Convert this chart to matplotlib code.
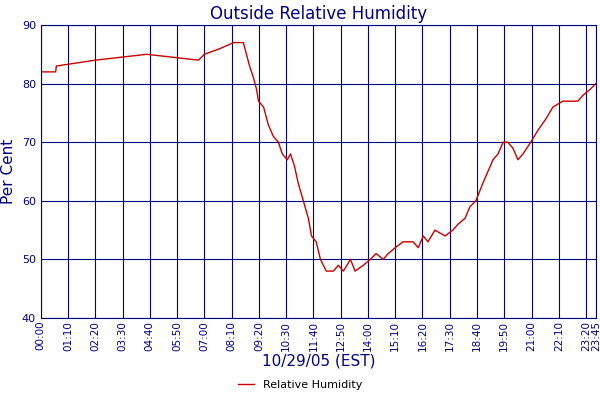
import matplotlib.pyplot as plt
from matplotlib.lines import Line2D

# minutes since midnight and relative humidity (%)
minutes = [0, 38, 40, 140, 272, 405, 420, 461, 495, 520, 528, 536, 546, 554, 559, 572,
           584, 597, 610, 620, 633, 641, 651, 661, 674, 687, 695, 707, 718, 733, 751,
           764, 777, 795, 807, 828, 846, 861, 879, 892, 910, 930, 956, 969, 982, 994,
           1012, 1038, 1058, 1071, 1089, 1102, 1117, 1135, 1148, 1161, 1174, 1187, 1199,
           1212, 1225, 1238, 1258, 1276, 1297, 1315, 1340, 1379, 1392, 1410, 1425]
humidity = [82, 82, 83, 84, 85, 84, 85, 86, 87, 87, 85, 83, 81, 79, 77, 76,
            73, 71, 70, 68, 67, 68, 66, 63, 60, 57, 54, 53, 50, 48, 48,
            49, 48, 50, 48, 49, 50, 51, 50, 51, 52, 53, 53, 52, 54, 53,
            55, 54, 55, 56, 57, 59, 60, 63, 65, 67, 68, 70, 70,
            69, 67, 68, 70, 72, 74, 76, 77, 77, 78, 79, 80]
tick_minutes = list(range(0, 1401, 70)) + [1425]
tick_labels = [f"{m // 60:02d}:{m % 60:02d}" for m in tick_minutes]

navy = "#000080"
fig = plt.figure(figsize=(6, 4), dpi=100)
ax = fig.add_axes([0.068, 0.205, 0.925, 0.7325])
ax.plot(minutes, humidity, color="#cc0000", lw=1)
ax.set_xlim(0, 1425)
ax.set_ylim(40, 90)
ax.set_yticks(range(40, 91, 10))
ax.set_xticks(tick_minutes)
ax.set_xticklabels(tick_labels, rotation=90, fontsize=7.5, color=navy)
ax.tick_params(axis="y", labelsize=8, colors=navy, length=0)
ax.tick_params(axis="x", length=0, colors=navy, pad=2)
ax.grid(True, color=navy, lw=0.8)
for s in ax.spines.values():
    s.set_color(navy)
ax.set_title("Outside Relative Humidity", color=navy, fontsize=12, pad=4)
ax.set_ylabel("Per Cent", color=navy, fontsize=11)
ax.set_xlabel("10/29/05 (EST)", color=navy, fontsize=11, labelpad=2)
fig.legend(handles=[Line2D([], [], color="#cc0000", lw=1)], labels=["Relative Humidity"],
           loc="lower center", bbox_to_anchor=(0.5, 0.0), frameon=False, fontsize=8,
           handlelength=1.5)
fig.savefig("out.png")
